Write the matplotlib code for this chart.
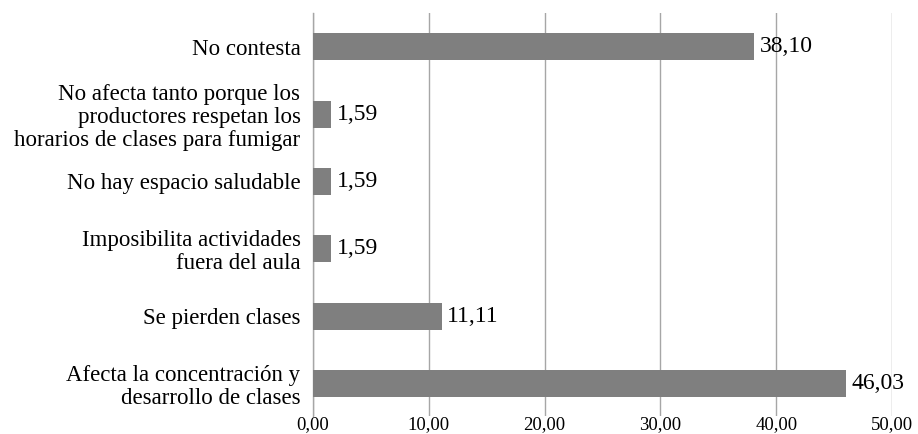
import matplotlib
matplotlib.use("Agg")
import matplotlib.pyplot as plt

# categories listed bottom to top
categories = [
    "Afecta la concentración y\ndesarrollo de clases",
    "Se pierden clases",
    "Imposibilita actividades\nfuera del aula",
    "No hay espacio saludable",
    "No afecta tanto porque los\nproductores respetan los\nhorarios de clases para fumigar",
    "No contesta",
]
values = [46.03, 11.11, 1.59, 1.59, 1.59, 38.10]
xticks = [0, 10, 20, 30, 40, 50]

plt.rcParams["font.family"] = ["Liberation Serif", "DejaVu Serif"]

fig = plt.figure(figsize=(9.18, 4.34), dpi=100)
ax = fig.add_axes([313 / 918, 1 - 416 / 434, (892 - 313) / 918, 403 / 434])

pos = list(range(len(categories)))
ax.barh(pos, values, height=0.4, color="#7f7f7f", zorder=3)

for p, v in zip(pos, values):
    ax.text(v + 0.45, p, f"{v:.2f}".replace(".", ","), va="center", ha="left",
            fontsize=17, color="black", zorder=4)

ax.set_xlim(0, 50)
ax.set_ylim(-0.48, 5.5)
ax.set_xticks(xticks)
ax.set_xticklabels([f"{t:.2f}".replace(".", ",") for t in xticks], fontsize=13.5)
ax.set_yticks(pos)
ax.set_yticklabels(categories, fontsize=16.5, linespacing=1.12)
ax.tick_params(axis="y", length=0, pad=9)
ax.tick_params(axis="x", length=0, pad=0)
ax.xaxis.grid(True, color="#a6a6a6", linewidth=1.0, zorder=0)

for side in ["top", "right", "bottom"]:
    ax.spines[side].set_visible(False)
ax.spines["left"].set_color("#a6a6a6")
ax.spines["left"].set_linewidth(1.0)

fig.savefig("out.png", dpi=100)
